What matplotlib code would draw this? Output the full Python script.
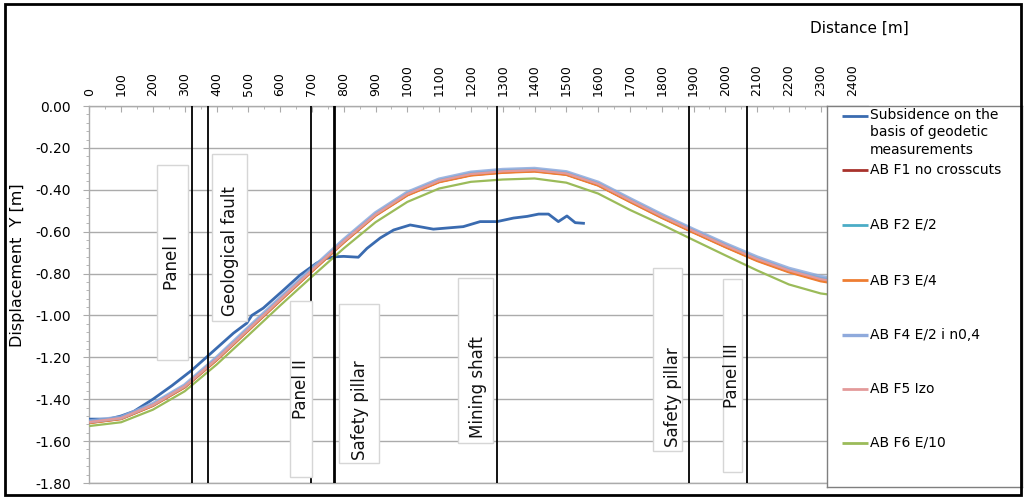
import matplotlib
matplotlib.use("Agg")
import matplotlib.pyplot as plt
from matplotlib.patches import Rectangle
from matplotlib.ticker import FixedLocator, MultipleLocator, FuncFormatter

plt.rcParams['font.family'] = ['DejaVu Sans']
plt.rcParams['axes.unicode_minus'] = False

# ---------------- data ----------------
distance = [0, 100, 200, 300, 400, 500, 600, 700, 800, 900, 1000, 1100, 1200,
            1300, 1400, 1500, 1600, 1700, 1800, 1900, 2000, 2100, 2200, 2300, 2400]

f1_no_crosscuts = [-1.511, -1.492, -1.429, -1.341, -1.211, -1.069, -0.927, -0.787, -0.649,
                   -0.520, -0.423, -0.360, -0.328, -0.315, -0.309, -0.325, -0.376, -0.454,
                   -0.530, -0.601, -0.670, -0.735, -0.789, -0.831, -0.856]
f2_e2 = [-1.508, -1.489, -1.425, -1.336, -1.205, -1.062, -0.920, -0.780, -0.642,
         -0.514, -0.416, -0.353, -0.320, -0.307, -0.302, -0.318, -0.368, -0.446,
         -0.522, -0.593, -0.661, -0.726, -0.780, -0.820, -0.845]
f3_e4 = [-1.512, -1.493, -1.430, -1.342, -1.212, -1.070, -0.928, -0.788, -0.650,
         -0.522, -0.425, -0.362, -0.330, -0.317, -0.311, -0.327, -0.378, -0.456,
         -0.532, -0.603, -0.672, -0.738, -0.792, -0.835, -0.860]
f4_e2_n04 = [-1.506, -1.487, -1.423, -1.334, -1.203, -1.060, -0.918, -0.778, -0.640,
             -0.512, -0.414, -0.351, -0.318, -0.305, -0.300, -0.316, -0.366, -0.444,
             -0.520, -0.591, -0.659, -0.723, -0.777, -0.816, -0.840]
f5_izo = [-1.509, -1.490, -1.427, -1.338, -1.208, -1.066, -0.924, -0.784, -0.646,
          -0.518, -0.420, -0.357, -0.325, -0.312, -0.306, -0.322, -0.372, -0.450,
          -0.526, -0.597, -0.666, -0.731, -0.785, -0.827, -0.852]
f6_e10 = [-1.528, -1.510, -1.450, -1.362, -1.235, -1.095, -0.953, -0.815, -0.680,
          -0.555, -0.458, -0.394, -0.362, -0.351, -0.346, -0.366, -0.418, -0.496,
          -0.566, -0.640, -0.713, -0.785, -0.852, -0.895, -0.915]

measured_x = [0, 60, 100, 140, 200, 260, 322, 374, 453, 495, 511, 547, 610, 663, 715,
              741, 770, 800, 846, 873, 915, 957, 1009, 1082, 1176, 1229, 1282, 1334,
              1377, 1413, 1444, 1475, 1502, 1528, 1554]
measured_y = [-1.495, -1.495, -1.480, -1.458, -1.400, -1.335, -1.262, -1.192, -1.085,
              -1.037, -1.000, -0.965, -0.880, -0.807, -0.750, -0.730, -0.720, -0.718,
              -0.722, -0.680, -0.630, -0.592, -0.568, -0.588, -0.576, -0.552, -0.552,
              -0.535, -0.527, -0.516, -0.516, -0.552, -0.525, -0.557, -0.560]

series_labels = ["Subsidence on the\nbasis of geodetic\nmeasurements",
                 "AB F1 no crosscuts", "AB F2 E/2", "AB F3 E/4",
                 "AB F4 E/2 i n0,4", "AB F5 Izo", "AB F6 E/10"]

marker_labels = ["Panel I", "Geological fault", "Panel II", "Safety pillar",
                 "Mining shaft", "Safety pillar", "Panel III"]
marker_x = [322, 374, 697, 770, 1281, 1886, 2067]

x_ticks = list(range(0, 2500, 100))
y_ticks = [0.0, -0.2, -0.4, -0.6, -0.8, -1.0, -1.2, -1.4, -1.6, -1.8]

# ---------------- styles / layout ----------------
series_colors = ['#3A6BB0', '#A8322C', '#4BACC6', '#EE7D32', '#8FAADC', '#E39A9A', '#9BBB59']
series_widths = [2.0, 2.2, 1.6, 2.2, 3.0, 1.6, 1.6]
marker_widths = [1.3, 1.3, 1.3, 2.0, 1.3, 1.3, 1.3]
# label boxes: (x0, x1, ytop, ybottom, text_x, text_y)
label_boxes = [(213, 310, -0.282, -1.213, 260, -0.745),
               (386, 496, -0.229, -1.027, 442, -0.693),
               (631, 700, -0.931, -1.772, 666, -1.352),
               (785, 911, -0.946, -1.705, 850, -1.452),
               (1159, 1269, -0.821, -1.609, 1222, -1.342),
               (1773, 1864, -0.774, -1.648, 1836, -1.390),
               (1993, 2052, -0.826, -1.748, 2021, -1.285)]

W, H = 1024, 497
fig = plt.figure(figsize=(W / 100, H / 100), dpi=100)
fig.patch.set_facecolor('white')

ax_left, ax_right, ax_top, ax_bot = 89.3, 868.4, 106.0, 483.0
ax = fig.add_axes([ax_left / W, 1 - ax_bot / H, (ax_right - ax_left) / W, (ax_bot - ax_top) / H])
ax.set_xlim(0, 2450)
ax.set_ylim(-1.8, 0.0)

grid_c = '#ababab'
for s in ['right']:
    ax.spines[s].set_visible(False)
for s in ['left', 'top', 'bottom']:
    ax.spines[s].set_color(grid_c)
    ax.spines[s].set_linewidth(1.0)

ax.yaxis.set_major_locator(FixedLocator(y_ticks))
ax.yaxis.set_minor_locator(MultipleLocator(0.04))
ax.yaxis.set_major_formatter(FuncFormatter(lambda v, p: f"{v:.2f}" if abs(v) > 1e-9 else "0.00"))
ax.grid(axis='y', which='major', color=grid_c, lw=1.0, zorder=0)
ax.tick_params(axis='y', which='major', direction='out', length=4, color=grid_c,
               labelsize=10, pad=9)
ax.tick_params(axis='y', which='minor', direction='out', length=2.5, color=grid_c)

ax.xaxis.tick_top()
ax.xaxis.set_major_locator(FixedLocator(x_ticks))
ax.xaxis.set_minor_locator(MultipleLocator(50))
ax.set_xticklabels([str(v) for v in x_ticks], rotation=90, fontsize=9)
ax.tick_params(axis='x', which='major', direction='in', length=4, color=grid_c, pad=7,
               top=True, bottom=False)
ax.tick_params(axis='x', which='minor', direction='in', length=2, color=grid_c,
               top=True, bottom=False)

# model and measured series
model_series = [f1_no_crosscuts, f2_e2, f3_e4, f4_e2_n04, f5_izo, f6_e10]
ax.plot(measured_x, measured_y, color=series_colors[0], lw=series_widths[0], zorder=3)
for i, ys in enumerate(model_series):
    alpha = 0.85 if i == 3 else 1.0
    ax.plot(distance, ys, color=series_colors[i + 1], lw=series_widths[i + 1],
            alpha=alpha, zorder=3, solid_capstyle='butt')

# vertical marker lines
for xv, lw in zip(marker_x, marker_widths):
    ax.axvline(xv, color='black', lw=lw, zorder=4)

# label boxes
for (x0, x1, yt, yb, tx, ty), lab in zip(label_boxes, marker_labels):
    ax.add_patch(Rectangle((x0, yb), x1 - x0, yt - yb, facecolor='white',
                           edgecolor='#d6d6d6', lw=1.0, zorder=5))
    ax.text(tx, ty, lab, rotation=90, ha='center', va='center', fontsize=12,
            color='#111111', zorder=6)

ax.set_ylabel("Displacement  Y [m]", fontsize=11.5)
ax.yaxis.set_label_coords((25 - ax_left) / (ax_right - ax_left), (ax_bot - 265) / (ax_bot - ax_top))

fig.text(859 / W, 1 - 28 / H, "Distance [m]", ha='center', va='center', fontsize=11)

# legend box (manual)
lg_l, lg_r, lg_t, lg_b = 826.7, 1022.0, 106.0, 486.7
lax = fig.add_axes([lg_l / W, 1 - lg_b / H, (lg_r - lg_l) / W, (lg_b - lg_t) / H])
lax.set_xlim(lg_l, lg_r)
lax.set_ylim(lg_b, lg_t)
lax.set_xticks([])
lax.set_yticks([])
lax.set_facecolor('white')
for s in lax.spines.values():
    s.set_color('#7f7f7f')
    s.set_linewidth(1.0)
entry_y = [116, 170, 225, 280, 335, 389, 443]
for i, (lab, yy) in enumerate(zip(series_labels, entry_y)):
    lax.plot([841.7, 868.5], [yy, yy], color=series_colors[i], lw=2.0 if i != 4 else 2.4,
             solid_capstyle='butt')
    if i == 0:
        lax.text(870, yy - 8, lab, ha='left', va='top', fontsize=10, linespacing=1.3)
    else:
        lax.text(870, yy, lab, ha='left', va='center', fontsize=10)

# figure border
fig.add_artist(Rectangle((5 / W, 1 - 495 / H), (1021 - 5) / W, (495 - 4) / H,
                         transform=fig.transFigure, fill=False, edgecolor='black', lw=2.0))

fig.savefig('out.png', dpi=100, facecolor='white')
